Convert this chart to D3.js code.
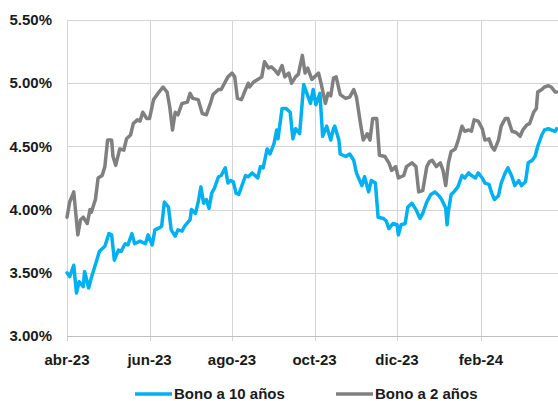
<!DOCTYPE html>
<html>
<head>
<meta charset="utf-8">
<script src="https://cdn.jsdelivr.net/npm/d3@7"></script>
<style>
  body { margin: 0; background: #fff; }
  svg { display: block; font-family: "Liberation Sans", Arial, sans-serif; }
</style>
</head>
<body>
<svg id="chart"></svg>
<script>
// Bono a 10 años (fechas y rendimiento, %)
var fechas10 = ["2023-04-01","2023-04-03","2023-04-06","2023-04-08","2023-04-10","2023-04-13","2023-04-14","2023-04-17","2023-04-19","2023-04-23",
  "2023-04-25","2023-04-29","2023-05-02","2023-05-04","2023-05-06","2023-05-09","2023-05-11","2023-05-14","2023-05-16","2023-05-19",
  "2023-05-21","2023-05-25","2023-05-29","2023-05-31","2023-06-03","2023-06-05","2023-06-09","2023-06-10","2023-06-12","2023-06-15",
  "2023-06-17","2023-06-20","2023-06-22","2023-06-25","2023-06-27","2023-07-01","2023-07-02","2023-07-05","2023-07-07","2023-07-09",
  "2023-07-11","2023-07-13","2023-07-15","2023-07-17","2023-07-19","2023-07-22","2023-07-24","2023-07-27","2023-07-29","2023-07-31",
  "2023-08-02","2023-08-04","2023-08-06","2023-08-08","2023-08-11","2023-08-13","2023-08-16","2023-08-18","2023-08-20","2023-08-22",
  "2023-08-24","2023-08-27","2023-08-29","2023-09-01","2023-09-03","2023-09-04","2023-09-07","2023-09-10","2023-09-13","2023-09-15",
  "2023-09-17","2023-09-20","2023-09-23","2023-09-25","2023-09-28","2023-09-30","2023-10-02","2023-10-05","2023-10-07","2023-10-10",
  "2023-10-13","2023-10-15","2023-10-16","2023-10-19","2023-10-20","2023-10-24","2023-10-27","2023-10-30","2023-11-01","2023-11-05",
  "2023-11-07","2023-11-10","2023-11-12","2023-11-15","2023-11-17","2023-11-21","2023-11-23","2023-11-25","2023-11-28","2023-12-01",
  "2023-12-02","2023-12-04","2023-12-07","2023-12-09","2023-12-12","2023-12-15","2023-12-18","2023-12-20","2023-12-23","2023-12-26",
  "2023-12-29","2024-01-01","2024-01-03","2024-01-06","2024-01-07","2024-01-08","2024-01-10","2024-01-12","2024-01-15","2024-01-18",
  "2024-01-20","2024-01-23","2024-01-25","2024-01-28","2024-01-30","2024-02-02","2024-02-04","2024-02-07","2024-02-09","2024-02-11",
  "2024-02-14","2024-02-16","2024-02-19","2024-02-21","2024-02-24","2024-02-26","2024-02-29","2024-03-02","2024-03-05","2024-03-07",
  "2024-03-10","2024-03-12","2024-03-14","2024-03-17","2024-03-19","2024-03-22","2024-03-24","2024-03-27","2024-03-28"];
var bono10 = [3.50,3.47,3.56,3.34,3.43,3.39,3.51,3.38,3.46,3.60,
  3.67,3.71,3.81,3.80,3.60,3.68,3.67,3.73,3.72,3.81,
  3.73,3.75,3.73,3.80,3.72,3.84,3.86,3.87,4.06,4.02,
  3.84,3.79,3.84,3.83,3.87,3.92,4.00,3.97,4.06,4.18,
  4.05,4.08,4.01,4.13,4.17,4.26,4.27,4.33,4.21,4.23,
  4.22,4.13,4.12,4.18,4.27,4.26,4.29,4.27,4.25,4.34,
  4.33,4.48,4.44,4.52,4.63,4.56,4.80,4.80,4.77,4.56,
  4.64,4.60,4.99,4.93,4.84,4.95,4.83,4.92,4.58,4.66,
  4.55,4.64,4.66,4.55,4.44,4.42,4.44,4.39,4.29,4.19,
  4.26,4.14,4.23,4.21,3.94,3.93,3.91,3.85,3.89,3.88,
  3.80,3.88,3.89,4.02,4.05,4.00,3.93,3.97,4.06,4.12,
  4.14,4.11,4.08,4.01,3.88,3.99,4.12,4.14,4.18,4.27,
  4.25,4.29,4.27,4.25,4.29,4.25,4.21,4.20,4.13,4.08,
  4.11,4.21,4.29,4.33,4.26,4.19,4.23,4.19,4.22,4.37,
  4.39,4.42,4.50,4.59,4.63,4.64,4.63,4.62,4.64];

// Bono a 2 años
var fechas2 = ["2023-04-01","2023-04-03","2023-04-06","2023-04-09","2023-04-11","2023-04-13","2023-04-16","2023-04-18","2023-04-19","2023-04-22",
  "2023-04-24","2023-04-27","2023-04-29","2023-05-01","2023-05-04","2023-05-05","2023-05-07","2023-05-10","2023-05-13","2023-05-15",
  "2023-05-18","2023-05-20","2023-05-23","2023-05-25","2023-05-27","2023-05-30","2023-06-01","2023-06-04","2023-06-08","2023-06-11",
  "2023-06-14","2023-06-16","2023-06-18","2023-06-20","2023-06-22","2023-06-25","2023-06-29","2023-07-01","2023-07-03","2023-07-07",
  "2023-07-10","2023-07-13","2023-07-16","2023-07-18","2023-07-22","2023-07-24","2023-07-27","2023-07-29","2023-08-01","2023-08-03",
  "2023-08-05","2023-08-08","2023-08-11","2023-08-13","2023-08-14","2023-08-17","2023-08-20","2023-08-23","2023-08-25","2023-08-28",
  "2023-08-30","2023-09-02","2023-09-04","2023-09-07","2023-09-09","2023-09-12","2023-09-14","2023-09-17","2023-09-19","2023-09-22",
  "2023-09-24","2023-09-26","2023-09-29","2023-10-01","2023-10-04","2023-10-06","2023-10-09","2023-10-11","2023-10-13","2023-10-15",
  "2023-10-17","2023-10-20","2023-10-24","2023-10-27","2023-10-30","2023-11-01","2023-11-04","2023-11-06","2023-11-09","2023-11-11",
  "2023-11-13","2023-11-16","2023-11-18","2023-11-22","2023-11-25","2023-11-27","2023-11-30","2023-12-02","2023-12-06","2023-12-08",
  "2023-12-12","2023-12-15","2023-12-17","2023-12-20","2023-12-23","2023-12-25","2023-12-27","2023-12-30","2024-01-02","2024-01-04",
  "2024-01-06","2024-01-08","2024-01-10","2024-01-13","2024-01-15","2024-01-18","2024-01-20","2024-01-23","2024-01-25","2024-01-27",
  "2024-01-30","2024-02-02","2024-02-04","2024-02-07","2024-02-09","2024-02-11","2024-02-14","2024-02-16","2024-02-19","2024-02-21",
  "2024-02-24","2024-02-27","2024-03-01","2024-03-03","2024-03-06","2024-03-08","2024-03-11","2024-03-13","2024-03-14","2024-03-17",
  "2024-03-19","2024-03-22","2024-03-24","2024-03-27","2024-03-28"];
var bono2 = [3.94,4.06,4.14,3.80,3.92,3.94,3.89,4.00,3.98,4.08,
  4.25,4.27,4.34,4.55,4.55,4.42,4.35,4.48,4.47,4.56,
  4.59,4.68,4.71,4.70,4.77,4.72,4.72,4.87,4.93,4.97,
  4.93,4.81,4.63,4.77,4.75,4.84,4.85,4.92,4.88,4.87,
  4.76,4.75,4.84,4.91,4.95,4.95,5.01,5.05,5.08,5.05,
  4.88,4.87,4.95,5.00,4.97,5.01,5.03,5.05,5.17,5.12,
  5.13,5.10,5.07,5.14,5.05,5.08,5.00,5.05,5.07,5.22,
  5.08,5.12,5.03,5.05,5.08,4.99,4.84,4.92,4.90,5.04,
  5.05,4.91,4.88,4.89,4.95,4.89,4.68,4.55,4.60,4.55,
  4.72,4.72,4.43,4.42,4.37,4.31,4.34,4.25,4.27,4.34,
  4.37,4.34,4.14,4.15,4.34,4.38,4.39,4.34,4.37,4.31,
  4.19,4.37,4.46,4.48,4.54,4.66,4.62,4.63,4.62,4.71,
  4.70,4.64,4.55,4.56,4.50,4.47,4.55,4.66,4.72,4.72,
  4.62,4.61,4.58,4.63,4.67,4.68,4.77,4.80,4.93,4.95,
  4.97,4.98,4.97,4.93,4.93];

var yTicks = [3.0, 3.5, 4.0, 4.5, 5.0, 5.5];
var xTickDates = ["2023-04-01","2023-06-01","2023-08-01","2023-10-01","2023-12-01","2024-02-01"];
var xTickLabels = ["abr-23","jun-23","ago-23","oct-23","dic-23","feb-24"];
var seriesNames = ["Bono a 10 años", "Bono a 2 años"];
var colors = ["#00B0F0", "#808080"];

var width = 558, height = 401;
var margin = {top: 20, right: 0, bottom: 65, left: 67};
var parse = d3.timeParse("%Y-%m-%d");

var svg = d3.select("#chart").attr("width", width).attr("height", height);

var x = d3.scaleTime()
  .domain([parse("2023-04-01"), parse("2024-03-29")])
  .range([margin.left, width - margin.right]);
var y = d3.scaleLinear()
  .domain([3.0, 5.5])
  .range([height - margin.bottom, margin.top]);

// grid
svg.append("g")
  .selectAll("line")
  .data(yTicks)
  .join("line")
  .attr("x1", margin.left).attr("x2", width - margin.right)
  .attr("y1", d => Math.round(y(d)) + 0.5).attr("y2", d => Math.round(y(d)) + 0.5)
  .attr("stroke", "#d4d4d4").attr("stroke-width", 1);

svg.append("g")
  .selectAll("line")
  .data(xTickDates)
  .join("line")
  .attr("x1", d => Math.round(x(parse(d))) + 0.5).attr("x2", d => Math.round(x(parse(d))) + 0.5)
  .attr("y1", margin.top).attr("y2", height - margin.bottom + 5)
  .attr("stroke", "#d4d4d4").attr("stroke-width", 1);

// bottom axis line
svg.append("line")
  .attr("x1", margin.left).attr("x2", width - margin.right)
  .attr("y1", Math.round(y(3.0)) + 0.5).attr("y2", Math.round(y(3.0)) + 0.5)
  .attr("stroke", "#bfbfbf");

// y labels
svg.append("g")
  .selectAll("text")
  .data(yTicks)
  .join("text")
  .attr("x", 52)
  .attr("y", d => y(d))
  .attr("dy", "0.35em")
  .attr("text-anchor", "end")
  .attr("font-size", 15)
  .attr("font-weight", "bold")
  .attr("fill", "#1a1a1a")
  .text(d => d3.format(".2f")(d) + "%");

// x labels
svg.append("g")
  .selectAll("text")
  .data(xTickDates)
  .join("text")
  .attr("x", d => x(parse(d)))
  .attr("y", 365)
  .attr("text-anchor", "middle")
  .attr("font-size", 15)
  .attr("font-weight", "bold")
  .attr("fill", "#1a1a1a")
  .text((d, i) => xTickLabels[i]);

// lines
var line = d3.line()
  .x(d => x(d.date))
  .y(d => y(d.value));

var data10 = fechas10.map((f, i) => ({date: parse(f), value: bono10[i]}));
var data2 = fechas2.map((f, i) => ({date: parse(f), value: bono2[i]}));

[data10, data2].forEach(function(data, i) {
  svg.append("path")
    .datum(data)
    .attr("d", line)
    .attr("fill", "none")
    .attr("stroke", colors[i])
    .attr("stroke-width", 3.5)
    .attr("stroke-linejoin", "round")
    .attr("stroke-linecap", "round");
});

// legend
var legendX = [135, 336];
var legend = svg.append("g")
  .selectAll("g")
  .data(seriesNames)
  .join("g")
  .attr("transform", (d, i) => "translate(" + legendX[i] + ",394)");
legend.append("line")
  .attr("x1", 0).attr("x2", 37)
  .attr("stroke", (d, i) => colors[i])
  .attr("stroke-width", 3.5);
legend.append("text")
  .attr("x", 39)
  .attr("y", 0)
  .attr("dy", "0.35em")
  .attr("font-size", 15)
  .attr("font-weight", "bold")
  .attr("fill", "#1a1a1a")
  .text(d => d);
</script>
</body>
</html>
